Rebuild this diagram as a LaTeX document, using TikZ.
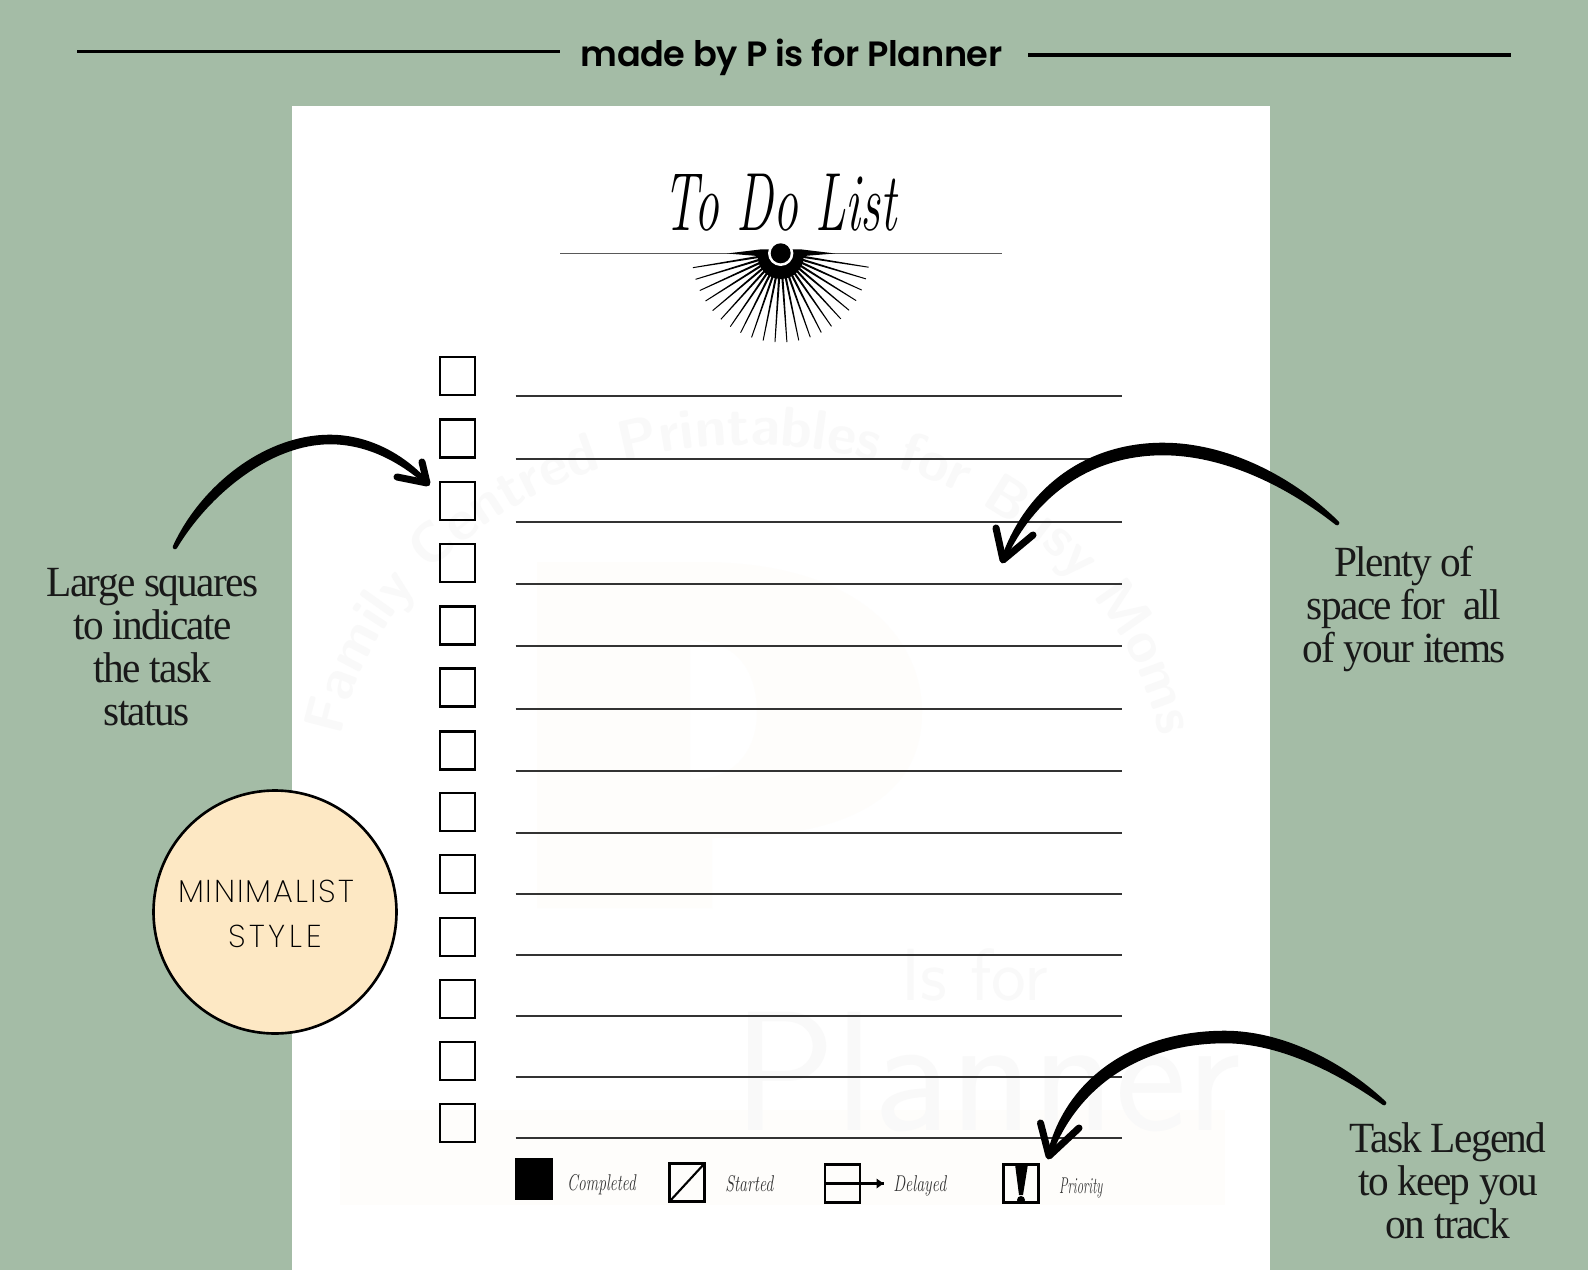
\documentclass[tikz,border=0pt]{standalone}
\usepackage{fontspec}
\usetikzlibrary{decorations.text}
\newfontfamily\headfont{Poppins}[UprightFont=* SemiBold,LetterSpace=-1.2]
\newfontfamily\notefont{Liberation Serif}[LetterSpace=-4]
\newfontfamily\badgefont{Poppins}[UprightFont=* ExtraLight,LetterSpace=6]
\definecolor{sage}{HTML}{A4BCA6}
\definecolor{badge}{HTML}{FDE8C4}
\definecolor{mark}{HTML}{F9F9F9}
\definecolor{markcream}{HTML}{FEFDFB}
\tikzset{
  checkbox/.style={draw, line width=1.2pt, minimum width=0.7cm, minimum height=0.76cm, inner sep=0pt, outer sep=0pt},
  legendbox/.style={draw, line width=1.4pt, minimum width=0.7cm, minimum height=0.76cm, inner sep=0pt, outer sep=0pt},
  rowline/.style={line width=0.7pt, black!80},
  headline/.style={line width=2pt},
  notetext/.style={align=center, inner sep=0pt, xscale=0.96, text=black!90, font=\notefont\fontsize{24.5}{24.5}\selectfont},
  badgetext/.style={inner sep=0pt, font=\badgefont\fontsize{18}{18}\selectfont},
  script/.style={inner sep=0pt, anchor=base west, xscale=0.7, text=black!80, font=\itshape\fontsize{13}{13}\selectfont},
  bigarrow/.style={fill, line width=2.6pt, line join=round, line cap=round},
  barb/.style={line width=4pt, line join=round, line cap=round}
}
\begin{document}
\begin{tikzpicture}[x=0.02cm, y=-0.02cm]
\useasboundingbox (0,0) rectangle (1588,1270);
\fill [sage] (0,0) rectangle (1588,1270);
\fill [white] (292,106) rectangle (1269.5,1270);

% faint marks on the sheet
\fill [markcream] (340,1110) rectangle (1225,1205);
\fill [markcream, even odd rule] (537,562) -- (700,562) .. controls (860,562) and (922,640) .. (922,712)
  .. controls (922,790) and (860,838) .. (712,838) -- (712,908) -- (537,908) -- cycle
  (690,640) -- (690,780) .. controls (740,780) and (757,745) .. (757,712) .. controls (757,675) and (740,640) .. (690,640) -- cycle;
\path [decorate, decoration={text along path, text align=center,
  text={|\color{mark}\sffamily\bfseries\fontsize{32}{32}\selectfont|Family Centred Printables for Busy Moms}}]
  (335,795) arc [start angle=180, end angle=360, x radius=415, y radius=350];
\node (M1) at (975,975) [inner sep=0pt, text=mark, font=\sffamily\fontsize{42}{42}\selectfont] {Is for};
\node (M2) at (987,1072) [inner sep=0pt, text=mark, font=\sffamily\fontsize{97}{97}\selectfont] {Planner};

% header
\coordinate (H1) at (77,51.5);
\coordinate (H2) at (560,51.5);
\coordinate (H3) at (1028,55);
\coordinate (H4) at (1511,55);
\node (Head) at (791.5,57) [inner sep=0pt, font=\headfont\fontsize{20}{20}\selectfont] {made by P is for Planner};
\draw [headline] (H1) -- (H2);
\draw [headline] (H3) -- (H4);

% title
\node (Title) at (780,203) [inner sep=0pt, xscale=0.6, font=\itshape\fontsize{47}{47}\selectfont] {To Do List};
\coordinate (R1) at (560,253.3);
\coordinate (R2) at (1002,253.3);
\draw [line width=0.6pt, black!65] (R1) -- (R2);

% sun
\coordinate (Sun) at (780.7,253.3);
\foreach \a in {9,16.7,...,172} {
  \fill [shift={(Sun)}] (\a-3.6:18) -- (\a-0.3:89) -- (\a+0.3:89) -- (\a+3.6:18) -- cycle;
}
\fill (727,253.5) -- (760,249.5) -- (802,249.5) -- (835,253.5) -- (803.7,256)
  arc [start angle=0, end angle=180, radius=23] -- (757.7,256) -- cycle;
\fill [white] (Sun) circle [radius=12.7];
\fill (Sun) circle [radius=10];

% rows
\foreach \i/\by/\ly in {1/375.7/396, 2/438.5/459, 3/501/522, 4/563/584, 5/625.5/646,
  6/687.5/709, 7/750.5/771, 8/812/833, 9/874/894, 10/937/955, 11/998.6/1016, 12/1061/1077, 13/1123/1138} {
  \node (B\i) at (457.5,\by) [checkbox] {};
  \coordinate (A\i) at (515.5,\ly);
  \coordinate (E\i) at (1122,\ly);
  \draw [rowline] (A\i) -- (E\i);
}

% legend
\node (L1) at (534,1179) [legendbox, fill, minimum width=0.72cm, minimum height=0.78cm] {};
\node (T1) at (567,1190) [script, xscale=0.97] {Completed};
\node (L2) at (687,1182.5) [legendbox] {};
\draw [line width=1.2pt] (L2.south west) -- (L2.north east);
\node (T2) at (725,1191) [script] {Started};
\node (L3) at (842.5,1183.5) [legendbox] {};
\coordinate (L3a) at (883.5,1183.5);
\draw [line width=1.4pt] (L3.west) -- (L3.east);
\draw [line width=1.4pt] (L3.east) -- (L3a);
\fill (L3a) -- ++(-7,-5) -- ++(0,10) -- cycle;
\node (T3) at (893,1191) [script] {Delayed};
\node (L4) at (1021,1183.5) [legendbox] {};
\fill (1015,1164) -- (1028,1164) -- (1023,1195) -- (1019,1195) -- cycle;
\fill (1021,1200) circle [radius=4];
\node (T4) at (1059,1193) [script, xscale=0.8] {Priority};

% badge
\node (Badge) at (275,912) [circle, draw, line width=1.5pt, fill=badge, minimum size=4.86cm, inner sep=0pt] {};
\node (B1text) at (266,891) [badgetext] {MINIMALIST};
\node (B2text) at (275,936) [badgetext, font=\badgefont\addfontfeature{LetterSpace=12}\fontsize{18}{18}\selectfont] {STYLE};

% notes
\node (N1) at (152.5,647) [notetext] {Large squares\\to indicate\\the task\\status\kern 7pt};
\node (N2) at (1404,609) [notetext] {Plenty of\\space for\ \ all\\of your items};
\node (N3) at (1448,1181) [notetext] {Task Legend\\to keep you\\on track};

% arrows
\coordinate (Tail1) at (175,547);
\coordinate (Tip1) at (427,483);
\coordinate (Bar1a) at (422,462);
\coordinate (Bar1b) at (397,477);
\draw [bigarrow] (Tail1) .. controls (202,488) and (265,437) .. (330,437)
  .. controls (370,437) and (405,458) .. (Tip1)
  .. controls (403,462) and (370,442) .. (330,442)
  .. controls (270,442) and (208,492) .. (Tail1);
\draw [barb] (Bar1a) -- (Tip1) -- (Bar1b);

\coordinate (Tail2) at (1337,523);
\coordinate (Tip2) at (1003,560);
\coordinate (Bar2a) at (996,528);
\coordinate (Bar2b) at (1033,535);
\draw [bigarrow] (Tail2) .. controls (1290,477) and (1225,445) .. (1163,445)
  .. controls (1088,445) and (1028,488) .. (Tip2)
  .. controls (1034,492) and (1092,453) .. (1163,453)
  .. controls (1222,453) and (1285,482) .. (Tail2);
\draw [barb] (Bar2a) -- (Tip2) -- (Bar2b);

\coordinate (Tail3) at (1384,1103);
\coordinate (Tip3) at (1049,1156);
\coordinate (Bar3a) at (1040.5,1123);
\coordinate (Bar3b) at (1079,1128);
\draw [bigarrow] (Tail3) .. controls (1340,1062) and (1280,1033) .. (1225,1033)
  .. controls (1140,1033) and (1068,1076) .. (Tip3)
  .. controls (1076,1083) and (1142,1041) .. (1225,1041)
  .. controls (1277,1041) and (1335,1068) .. (Tail3);
\draw [barb] (Bar3a) -- (Tip3) -- (Bar3b);

\end{tikzpicture}
\end{document}
